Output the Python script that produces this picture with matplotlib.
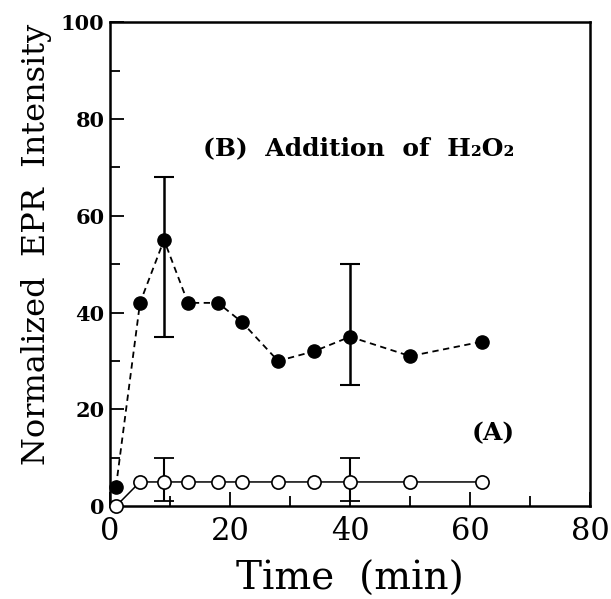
import matplotlib
matplotlib.use('Agg')
import matplotlib.pyplot as plt
from matplotlib.ticker import MultipleLocator

plt.rcParams['font.family'] = ['DejaVu Serif', 'DejaVu Sans']

# (B) addition of H2O2, filled circles
t_b = [1, 5, 9, 13, 18, 22, 28, 34, 40, 50, 62]
y_b = [4, 42, 55, 42, 42, 38, 30, 32, 35, 31, 34]
# error bars on two points (lower, upper)
t_b_err = [9, 40]
y_b_err = [55, 35]
b_lo = [20, 10]
b_hi = [13, 15]

# (A) control, open circles
t_a = [1, 5, 9, 13, 18, 22, 28, 34, 40, 50, 62]
y_a = [0, 5, 5, 5, 5, 5, 5, 5, 5, 5, 5]
t_a_err = [9, 40]
y_a_err = [5, 5]
a_lo = [4, 4]
a_hi = [5, 5]

fig = plt.figure(figsize=(6.11, 5.99), dpi=100)
ax = fig.add_axes([0.18, 0.155, 0.786, 0.808])

ax.plot(t_b, y_b, color='black', linestyle=(0, (3.5, 2.5)), linewidth=1.3,
        marker='o', markersize=9.5, markerfacecolor='black', markeredgecolor='black',
        clip_on=False, zorder=3)
ax.errorbar(t_b_err, y_b_err, yerr=[b_lo, b_hi], fmt='none', ecolor='black',
            elinewidth=1.8, capsize=7.5, capthick=1.5, zorder=2)

ax.plot(t_a, y_a, color='black', linestyle='-', linewidth=1.1,
        marker='o', markersize=9.5, markerfacecolor='white', markeredgecolor='black',
        markeredgewidth=1.2, clip_on=False, zorder=3)
ax.errorbar(t_a_err, y_a_err, yerr=[a_lo, a_hi], fmt='none', ecolor='black',
            elinewidth=1.5, capsize=7.5, capthick=1.3, zorder=2)

ax.set_xlim(0, 80)
ax.set_ylim(0, 100)
ax.xaxis.set_major_locator(MultipleLocator(20))
ax.xaxis.set_minor_locator(MultipleLocator(10))
ax.yaxis.set_major_locator(MultipleLocator(20))
ax.yaxis.set_minor_locator(MultipleLocator(10))
ax.tick_params(which='both', direction='in', top=False, right=False, width=1.3)
ax.tick_params(which='major', length=10)
ax.tick_params(which='minor', length=7)
ax.tick_params(axis='x', labelsize=22, pad=7)
ax.tick_params(axis='y', labelsize=15, pad=4)
for lab in ax.get_yticklabels():
    lab.set_fontweight('bold')
for s in ax.spines.values():
    s.set_linewidth(1.8)

ax.set_xlabel('Time  (min)', fontsize=28, labelpad=10)
ax.set_ylabel('Normalized  EPR  Intensity', fontsize=23)
ax.yaxis.set_label_coords(-0.12, 0.54)

ax.text(15.5, 74, '(B)  Addition  of  H₂O₂', fontsize=18, fontweight='bold',
        va='center', ha='left')
ax.text(60.3, 15, '(A)', fontsize=18, fontweight='bold', va='center', ha='left')

fig.savefig('out.png', dpi=100)
